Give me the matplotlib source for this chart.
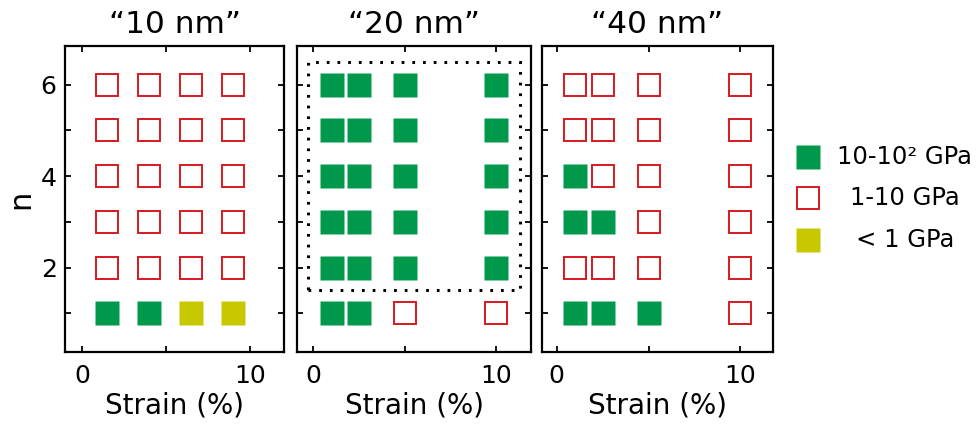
import matplotlib
matplotlib.use("Agg")
import matplotlib.pyplot as plt
from matplotlib.patches import Rectangle

plt.rcParams["font.family"] = ["DejaVu Sans"]

# data
n_values = [1, 2, 3, 4, 5, 6]
panel_titles = ["\u201c10 nm\u201d", "\u201c20 nm\u201d", "\u201c40 nm\u201d"]
strain_10 = [1.5, 4, 6.5, 9]
strain_20 = [1, 2.5, 5, 10]
strain_40 = [1, 2.5, 5, 10]
# modulus class per n (rows n=1..6), one letter per strain value
# G: 10-10^2 GPa, R: 1-10 GPa, Y: < 1 GPa
class_10 = ["GGYY", "RRRR", "RRRR", "RRRR", "RRRR", "RRRR"]
class_20 = ["GGRR", "GGGG", "GGGG", "GGGG", "GGGG", "GGGG"]
class_40 = ["GGGR", "RRRR", "GGRR", "GRRR", "RRRR", "RRRR"]
legend_labels = ["10-10\u00b2 GPa", "1-10 GPa", "< 1 GPa"]
legend_codes = ["G", "R", "Y"]

GREEN = "#00994c"
RED = "#d71920"
YELLOW = "#c8c800"


def marker_style(code):
    """Returns plot kwargs for a modulus class"""
    if code == "R":
        return dict(marker="s", markersize=16.2, markerfacecolor="white",
                    markeredgecolor=RED, markeredgewidth=1.4)
    color = GREEN if code == "G" else YELLOW
    return dict(marker="s", markersize=17.6, markerfacecolor=color,
                markeredgecolor="none")


def draw_panel(ax, strains, classes, xlim):
    for n, row in zip(n_values, classes):
        for s, code in zip(strains, row):
            ax.plot([s], [n], linestyle="none", **marker_style(code))
    ax.set_xlim(*xlim)
    ax.set_ylim(0.15, 6.85)
    ax.set_xticks([0, 5, 10])
    ax.set_xticklabels(["0", "", "10"])
    ax.set_yticks(n_values)
    ax.tick_params(direction="in", length=4, width=1.3, top=True, right=True,
                   labelsize=18, pad=6)
    ax.tick_params(axis="x", pad=9)
    for sp in ax.spines.values():
        sp.set_linewidth(1.6)
    ax.set_xlabel("Strain (%)", fontsize=20, labelpad=2)


fig = plt.figure(figsize=(9.79, 4.29), dpi=100)
ax1 = fig.add_axes([0.0664, 0.1795, 0.2237, 0.7133])
ax2 = fig.add_axes([0.3037, 0.1795, 0.2384, 0.7133])
ax3 = fig.add_axes([0.5533, 0.1795, 0.2366, 0.7133])

draw_panel(ax1, strain_10, class_10, (-1.0, 12.0))
draw_panel(ax2, strain_20, class_20, (-0.88, 11.9))
draw_panel(ax3, strain_40, class_40, (-0.82, 11.8))

ax1.set_yticklabels(["", "2", "", "4", "", "6"])
ax1.set_ylabel("n", fontsize=22, labelpad=4)
for ax in (ax2, ax3):
    ax.set_yticklabels([])

for ax, title in zip((ax1, ax2, ax3), panel_titles):
    ax.set_title(title, fontsize=22.5, pad=9)

# dotted box around the stiff region of the 20 nm panel
ax2.add_patch(Rectangle((-0.3, 1.5), 11.6, 5.0, fill=False, edgecolor="black",
                        linewidth=2.2, linestyle=(0, (0.9, 2.6))))

# legend drawn by hand so the labels can be centred
leg = fig.add_axes([0.79, 0.0, 0.21, 1.0])
leg.set_axis_off()
leg.set_xlim(0, 1)
leg.set_ylim(0, 1)
for i, (label, code) in enumerate(zip(legend_labels, legend_codes)):
    y = 0.635 - i * 0.097
    leg.plot([0.17], [y], linestyle="none", **marker_style(code))
    leg.text(0.64, y, label, fontsize=17.5, ha="center", va="center")

fig.savefig("out.png", dpi=100)
